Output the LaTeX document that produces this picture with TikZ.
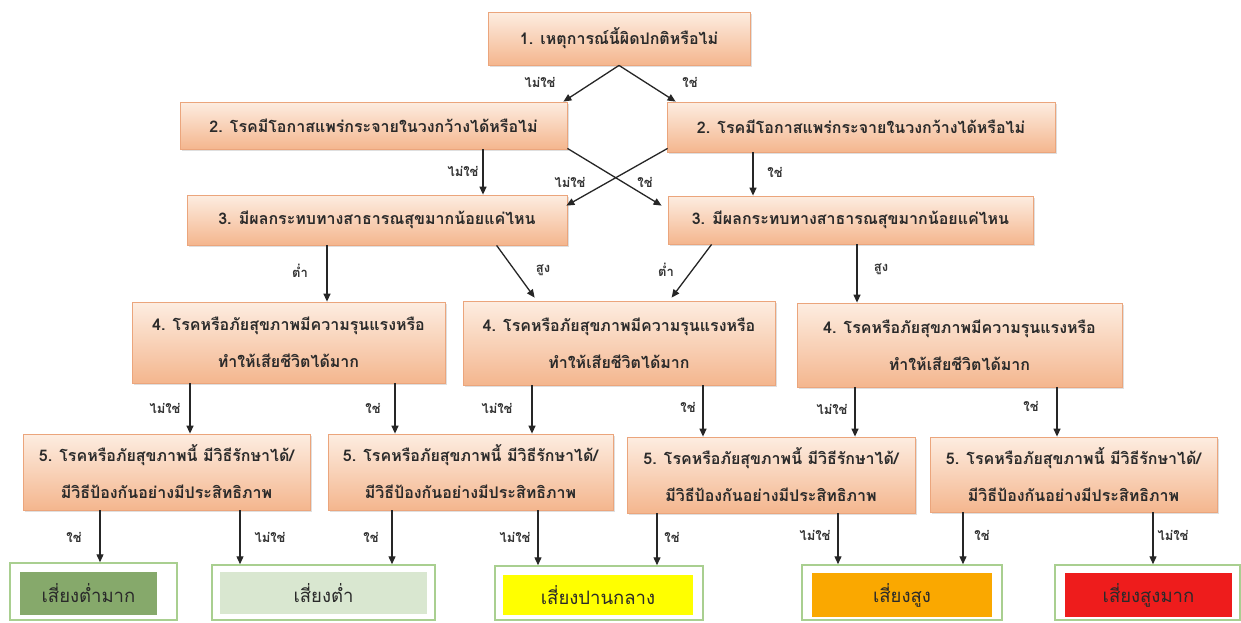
\documentclass[tikz,border=0pt]{standalone}
\usepackage{fontspec}
\newfontfamily\thai[Script=Thai]{Loma}
\usetikzlibrary{arrows.meta,calc,shadows}
\definecolor{peachT}{HTML}{FDEDE1}
\definecolor{peachB}{HTML}{F4B68E}
\definecolor{peachD}{HTML}{EBA57C}
\definecolor{txt}{HTML}{2A2A2A}
\definecolor{lblc}{HTML}{333333}
\definecolor{lgreen}{HTML}{A9CF90}
\definecolor{fA}{HTML}{86A96B}
\definecolor{fB}{HTML}{D9E7D0}
\definecolor{fC}{HTML}{FFFF00}
\definecolor{fD}{HTML}{FAA800}
\definecolor{fE}{HTML}{EE1C1C}
\tikzset{
  qbox/.style={draw=peachD, line width=0.8pt, top color=peachT, bottom color=peachB,
    drop shadow={opacity=0.25, shadow xshift=1.5pt, shadow yshift=-1.5pt},
    font=\thai\bfseries\fontsize{16}{37}\selectfont, text=txt, align=center, inner sep=0pt},
  lbl/.style={font=\thai\bfseries\fontsize{13}{14}\selectfont, text=lblc, inner sep=0pt},
  outbox/.style={draw=lgreen, line width=1.5pt, fill=white, inner sep=0pt},
  inbox/.style={draw=none, inner sep=0pt, font=\thai\fontsize{18.5}{21}\selectfont, text=txt},
  arr/.style={-{Triangle[length=8pt,width=7pt]}, line width=1.3pt, draw=black!85}
}
\newcommand\varr[3]{\draw[arr] (#1.south -| #3,0) -- (#2.north -| #3,0);}
\begin{document}
\begin{tikzpicture}[x=1pt,y=-1pt]
\useasboundingbox[fill=white] (0,0) rectangle (1241,622);
% questions
\node[qbox, minimum width=262pt, minimum height=53pt] (b1) at (619,38.5) {1. เหตุการณ์นี้ผิดปกติหรือไม่};
\node[qbox, minimum width=387pt, minimum height=47pt] (b2l) at (373.5,125.5) {2. โรคมีโอกาสแพร่กระจายในวงกว้างได้หรือไม่};
\node[qbox, minimum width=388pt, minimum height=50pt] (b2r) at (861,127) {2. โรคมีโอกาสแพร่กระจายในวงกว้างได้หรือไม่};
\node[qbox, minimum width=380pt, minimum height=50pt] (b3l) at (377,220) {3. มีผลกระทบทางสาธารณสุขมากน้อยแค่ไหน};
\node[qbox, minimum width=365pt, minimum height=48pt] (b3r) at (850.5,220) {3. มีผลกระทบทางสาธารณสุขมากน้อยแค่ไหน};
\node[qbox, minimum width=313pt, minimum height=81pt] (b4l) at (288.5,342.5) {4. โรคหรือภัยสุขภาพมีความรุนแรงหรือ\\ทำให้เสียชีวิตได้มาก};
\node[qbox, minimum width=312pt, minimum height=84pt] (b4m) at (619,343) {4. โรคหรือภัยสุขภาพมีความรุนแรงหรือ\\ทำให้เสียชีวิตได้มาก};
\node[qbox, minimum width=325pt, minimum height=84pt] (b4r) at (959.5,345) {4. โรคหรือภัยสุขภาพมีความรุนแรงหรือ\\ทำให้เสียชีวิตได้มาก};
\node[qbox, minimum width=287pt, minimum height=76pt] (b5a) at (166.5,472) {5. โรคหรือภัยสุขภาพนี้ มีวิธีรักษาได้/\\มีวิธีป้องกันอย่างมีประสิทธิภาพ};
\node[qbox, minimum width=285pt, minimum height=76pt] (b5b) at (470.5,472) {5. โรคหรือภัยสุขภาพนี้ มีวิธีรักษาได้/\\มีวิธีป้องกันอย่างมีประสิทธิภาพ};
\node[qbox, minimum width=288pt, minimum height=76pt] (b5c) at (771,475) {5. โรคหรือภัยสุขภาพนี้ มีวิธีรักษาได้/\\มีวิธีป้องกันอย่างมีประสิทธิภาพ};
\node[qbox, minimum width=287pt, minimum height=75pt] (b5d) at (1073.5,474.5) {5. โรคหรือภัยสุขภาพนี้ มีวิธีรักษาได้/\\มีวิธีป้องกันอย่างมีประสิทธิภาพ};
% outcomes
\node[outbox, minimum width=167pt, minimum height=57pt] (rA) at (93.5,591.5) {};
\node[inbox, fill=fA, minimum width=137pt, minimum height=43pt] (iA) at (88.5,593.5) {เสี่ยงต่ำมาก};
\node[outbox, minimum width=223pt, minimum height=55pt] (rB) at (323.5,592.5) {};
\node[inbox, fill=fB, minimum width=207pt, minimum height=42pt] (iB) at (323.5,593) {เสี่ยงต่ำ};
\node[outbox, minimum width=208pt, minimum height=54pt] (rC) at (599,593) {};
\node[inbox, fill=fC, minimum width=190pt, minimum height=40pt] (iC) at (598,595) {เสี่ยงปานกลาง};
\node[outbox, minimum width=200pt, minimum height=55pt] (rD) at (902,592.5) {};
\node[inbox, fill=fD, minimum width=180pt, minimum height=44pt] (iD) at (902,595) {เสี่ยงสูง};
\node[outbox, minimum width=185pt, minimum height=55pt] (rE) at (1147.5,592.5) {};
\node[inbox, fill=fE, minimum width=167pt, minimum height=44pt] (iE) at (1148.5,595) {เสี่ยงสูงมาก};
% connectors row 1 -> 2
\draw[arr] (b1.south) -- ($(b2l.north east)+(-4,0)$);
\draw[arr] (b1.south) -- ($(b2r.north west)+(9,0)$);
\node[lbl] (l1) at (540,82) {ไม่ใช่};
\node[lbl] (l2) at (690,82) {ใช่};
% row 2 -> 3
\varr{b2l}{b3l}{483}
\node[lbl] (l3) at (463,171) {ไม่ใช่};
\draw[arr] ($(b2l.south east)+(0,-1)$) -- ($(b3r.north west)+(-6,10)$);
\draw[arr] ($(b2r.south west)+(1,-4)$) -- ($(b3l.north east)+(-1,11)$);
\node[lbl] (l4) at (570,182) {ไม่ใช่};
\node[lbl] (l5) at (645,182) {ใช่};
\varr{b2r}{b3r}{753}
\node[lbl] (l6) at (775,172) {ใช่};
% row 3 -> 4
\varr{b3l}{b4l}{327}
\node[lbl] (l7) at (300,271) {ต่ำ};
\draw[arr] ($(b3l.south west)+(310,0)$) -- ($(b4m.north west)+(72,-3)$);
\node[lbl] (l8) at (543,270) {สูง};
\draw[arr] ($(b3r.south west)+(44,0)$) -- ($(b4m.north west)+(209,-3)$);
\node[lbl] (l9) at (666,270) {ต่ำ};
\varr{b3r}{b4r}{857}
\node[lbl] (l10) at (881,269) {สูง};
% row 4 -> 5
\varr{b4l}{b5a}{190}
\node[lbl] (l11) at (165,408) {ไม่ใช่};
\varr{b4l}{b5b}{395}
\node[lbl] (l12) at (373,408) {ใช่};
\varr{b4m}{b5b}{532}
\node[lbl] (l13) at (497,408) {ไม่ใช่};
\varr{b4m}{b5c}{703}
\node[lbl] (l14) at (688,407) {ใช่};
\varr{b4r}{b5c}{855}
\node[lbl] (l15) at (832,409) {ไม่ใช่};
\varr{b4r}{b5d}{1057}
\node[lbl] (l16) at (1031,406) {ใช่};
% row 5 -> outcomes
\varr{b5a}{rA}{100}
\node[lbl] (l17) at (74,537) {ใช่};
\varr{b5a}{rB}{240}
\node[lbl] (l18) at (270,537) {ไม่ใช่};
\varr{b5b}{rB}{392}
\node[lbl] (l19) at (371,537) {ใช่};
\varr{b5b}{rC}{538}
\node[lbl] (l20) at (515,537) {ไม่ใช่};
\varr{b5c}{rC}{657}
\node[lbl] (l21) at (672,537) {ใช่};
\varr{b5c}{rD}{838}
\node[lbl] (l22) at (815,535) {ไม่ใช่};
\varr{b5d}{rD}{963}
\node[lbl] (l23) at (982,535) {ใช่};
\varr{b5d}{rE}{1153}
\node[lbl] (l24) at (1173,535) {ไม่ใช่};
\end{tikzpicture}
\end{document}
